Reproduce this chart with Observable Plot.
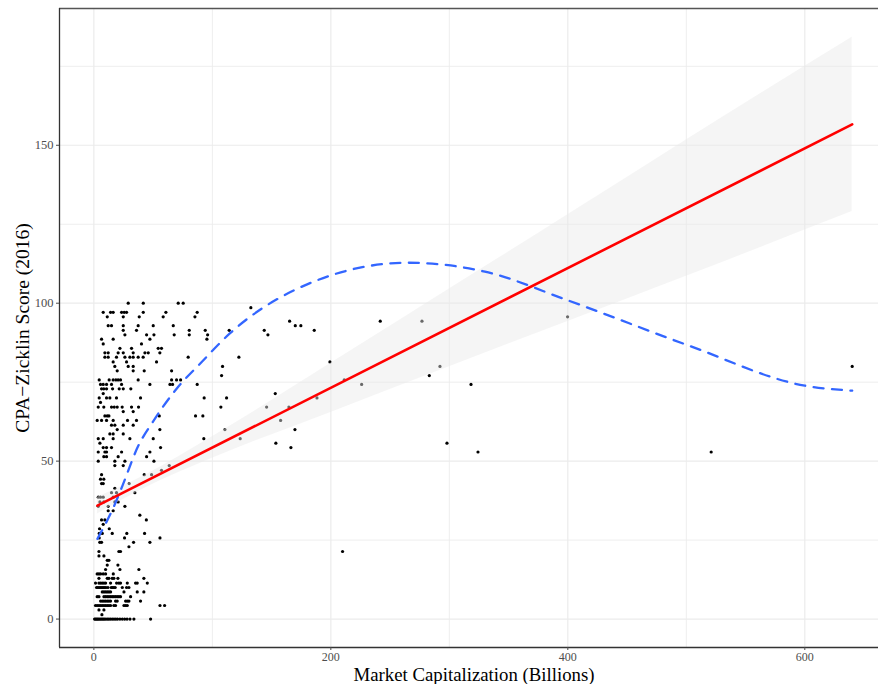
<!DOCTYPE html>
<html><head><meta charset="utf-8">
<script src="https://cdn.jsdelivr.net/npm/d3@7"></script>
<script src="https://cdn.jsdelivr.net/npm/@observablehq/plot@0.6"></script>
<style>body{margin:0;background:#fff;} svg{display:block}</style>
</head><body><div id="chart"></div>
<script>
// Tick values
const xTicks = [0, 200, 400, 600];
const xMinor = [100, 300, 500];
const yTicks = [0, 50, 100, 150];
const yMinor = [25, 75, 125, 175];
const xDomain = [-29.0, 662.2];
const yDomain = [-9.0, 193.3];

// Companies: [CPA-Zicklin score, [market caps in billions]]
const pointRows = [
  [0, [0.6,1.4,2.3,3.1,4.0,5.0,6.0,7.0,8.0,9.0,10.2,11.5,12.7,14.0,15.5,17.0,18.5,20.0,22.0,24.0,26.0,28.0,30.5,33.8,47.9]],
  [1.4, [6.8]],
  [2.9, [4.3,8.5]],
  [4.3, [1.4,2.8,4.3,5.7,7.1,8.5,9.9,11.3,12.7,14.1,16.9,18.3,25.4,26.8,28.2,55.8,59.7]],
  [5.7, [5.7,7.1,8.5,9.9,11.3,12.7,14.1,18.3,19.7,26.8,28.2,29.6,39.4]],
  [7.1, [2.8,4.3,8.5,9.9,11.3,12.7,14.1,15.5,16.9,18.3,19.7,21.1,22.5,31.0]],
  [8.6, [7.1,8.5,9.9,11.3,12.7,14.1,25.4,36.6,42.2]],
  [10.0, [2.3,3.4,4.5,5.7,6.8,7.9,9.0,10.2,11.9,14.7,15.8,16.9,18.0,24.0,27.6,29.6]],
  [11.4, [1.4,4.3,5.7,7.1,8.5,9.9,14.1,19.2,21.1,22.5,28.2,35.2,36.6,45.1]],
  [12.9, [4.3,11.3,12.7,15.5,16.9,20.3,42.2]],
  [14.3, [2.8,4.3,5.7,7.9,9.9,16.4]],
  [15.7, [9.9,22.0,38.0]],
  [17.1, [11.3,20.3]],
  [18.6, [11.3,12.7]],
  [20.0, [4.3,8.5]],
  [21.4, [4.3,21.1,22.5,209.9]],
  [22.9, [29.6]],
  [24.3, [5.0,6.5,33.5,47.3]],
  [25.7, [4.5,25.9,55.8]],
  [27.1, [4.5,7.1,15.5,27.8,42.8]],
  [28.6, [4.8,13.0]],
  [30.0, [7.9]],
  [31.4, [6.5,9.3,44.3]],
  [32.9, [38.8]],
  [34.3, [12.1,16.3]],
  [35.7, [3.7,12.1,26.2]],
  [37.1, [5.1,8.4,17.7,20.5]],
  [38.6, [3.7,5.6,7.9,16.3]],
  [40.0, [14.9,19.1,34.6]],
  [41.4, [17.7]],
  [42.9, [6.5,7.9,29.8]],
  [44.3, [5.6,8.4]],
  [45.7, [6.5,42.5,48.7]],
  [47.1, [57.1]],
  [48.6, [17.7,24.8,63.6]],
  [50.0, [3.7,17.7,26.2,50.7]],
  [51.4, [8.4,10.7,20.5,44.5]],
  [52.9, [3.7,9.3,10.7,23.4,47.3,324.2,521.0]],
  [54.3, [7.9,10.7,14.9,56.3,166.3]],
  [55.7, [5.1,153.6,298.0]],
  [57.1, [3.7,7.9,16.3,30.4,50.1,92.8,123.5]],
  [58.6, [13.5,16.3,24.8]],
  [60.0, [19.7,55.7,110.6,169.7]],
  [61.4, [14.9,17.7,24.8,33.2]],
  [62.9, [2.8,6.5,10.7,16.3,28.4,36.0,157.6]],
  [64.3, [9.3,11.3,12.7,55.2,85.8,92.0]],
  [65.7, [24.8,33.2]],
  [67.1, [3.7,8.4,14.9,17.2,19.7,23.9,31.8,37.7,107.2,145.8,164.6]],
  [68.6, [5.6]],
  [70.0, [4.5,10.7,13.5,19.1,39.4,93.1,112.0,188.3]],
  [71.4, [7.9,153.1]],
  [72.9, [6.5,8.4,10.7,15.8,21.4,24.8,31.2]],
  [74.3, [5.6,7.9,10.7,14.9,23.4,47.3,64.2,66.4,87.2,226.0,318.3]],
  [75.7, [4.5,12.9,16.3,18.6,20.5,22.5,37.4,65.6,69.8,73.2,211.3]],
  [77.1, [107.8,283.1]],
  [78.6, [19.7,33.2,42.5,65.6]],
  [80.0, [17.7,29.0,33.2,108.6,292.1,640.0]],
  [81.4, [16.3,27.6,52.9,199.2]],
  [82.9, [9.3,12.1,19.1,26.2,30.4,33.2,37.4,41.6,79.6,122.4]],
  [84.3, [9.3,12.1,20.5,24.8,33.2,43.1,45.9,55.7]],
  [85.7, [22.0,31.8,54.3,57.1]],
  [87.1, [7.9,40.2]],
  [88.6, [6.5,16.3,47.3,95.4]],
  [90.0, [26.2,44.5,50.7,67.8,80.5,96.0,146.9]],
  [91.4, [24.8,36.0,80.5,94.0,114.2,143.8,186.0]],
  [92.9, [12.1,14.9,24.8,37.4,50.1,67.0,170.0,174.7]],
  [94.3, [165.2,241.7,276.9]],
  [95.7, [11.3,24.8,38.3,58.5,85.3,399.8]],
  [97.1, [7.9,14.1,16.3,23.4,25.6,27.6,41.7,60.8,87.2]],
  [98.6, [132.5]],
  [100.0, [29.0,41.7,71.2,75.4]]
];

// Linear fit (red) and its 95% band
const fitX = [3, 640];
const fitY = [35.9, 156.6];
const bandX = [3, 40, 100, 200, 300, 400, 500, 640];
const bandLo = [33.3, 40.9, 50.9, 65.4, 79.9, 94.2, 108.5, 129.0];
const bandHi = [38.6, 44.9, 57.7, 81.0, 104.5, 128.0, 151.7, 184.2];

// Polynomial fit (blue dashed)
const polyX = [3, 16.6, 23.6, 37.7, 49, 70, 90, 115, 168.5, 265, 330, 400, 502, 600, 640];
const polyY = [25.4, 35.4, 41.7, 55.0, 62.0, 73.0, 81.0, 90.5, 104.0, 112.8, 110.0, 100.9, 86.6, 73.9, 72.3];

const xLabel = "Market Capitalization (Billions)";
const yLabel = "CPA\u2212Zicklin Score (2016)";

const points = pointRows.flatMap(([s, caps]) => caps.map(c => ({cap: c, score: s})));
const fit = fitX.map((x, i) => ({x, y: fitY[i]}));
const band = bandX.map((x, i) => ({x, lo: bandLo[i], hi: bandHi[i]}));
const poly = polyX.map((x, i) => ({x, y: polyY[i]}));

const chart = Plot.plot({
  width: 878,
  height: 684,
  marginLeft: 59,
  marginTop: 8,
  marginBottom: 37,
  marginRight: 0,
  style: {fontFamily: "'Liberation Serif', 'DejaVu Serif', serif", background: "#fff"},
  x: {domain: xDomain, label: null},
  y: {domain: yDomain, label: null},
  marks: [
    Plot.ruleX(xMinor, {stroke: "#ececec", strokeWidth: 0.9}),
    Plot.ruleY(yMinor, {stroke: "#ececec", strokeWidth: 0.9}),
    Plot.ruleX(xTicks, {stroke: "#ebebeb", strokeWidth: 1.2}),
    Plot.ruleY(yTicks, {stroke: "#ebebeb", strokeWidth: 1.2}),
    Plot.dot(points, {x: "cap", y: "score", r: 1.6, fill: "#000", stroke: null}),
    Plot.areaY(band, {x: "x", y1: "lo", y2: "hi", fill: "#e8e8e8", fillOpacity: 0.45, curve: "monotone-x"}),
    Plot.line(poly, {x: "x", y: "y", stroke: "#3366ff", strokeWidth: 2.3, strokeDasharray: "10,8.5", curve: "monotone-x"}),
    Plot.line(fit, {x: "x", y: "y", stroke: "#ff0000", strokeWidth: 2.6}),
    Plot.ruleY([yDomain[1]], {stroke: "#555", strokeWidth: 1.3}),
    Plot.ruleY([yDomain[0]], {stroke: "#333", strokeWidth: 1.3}),
    Plot.ruleX([xDomain[0]], {stroke: "#333", strokeWidth: 1.3}),
    Plot.axisX({ticks: xTicks, tickSize: 3, tickPadding: 1.5, fontSize: 12, color: "#4d4d4d", label: null}),
    Plot.axisY({ticks: yTicks, tickSize: 3, tickPadding: 3, fontSize: 12.5, color: "#4d4d4d", label: null}),
    Plot.text([xLabel], {frameAnchor: "bottom", textAnchor: "middle", dx: 5, dy: 27, fontSize: 18.8, fill: "#000", lineAnchor: "middle"}),
    Plot.text([yLabel], {frameAnchor: "left", textAnchor: "middle", dx: -37, dy: 0, rotate: -90, fontSize: 19.5, fill: "#000", lineAnchor: "middle"})
  ]
});
document.getElementById("chart").appendChild(chart);
</script>
</body></html>
